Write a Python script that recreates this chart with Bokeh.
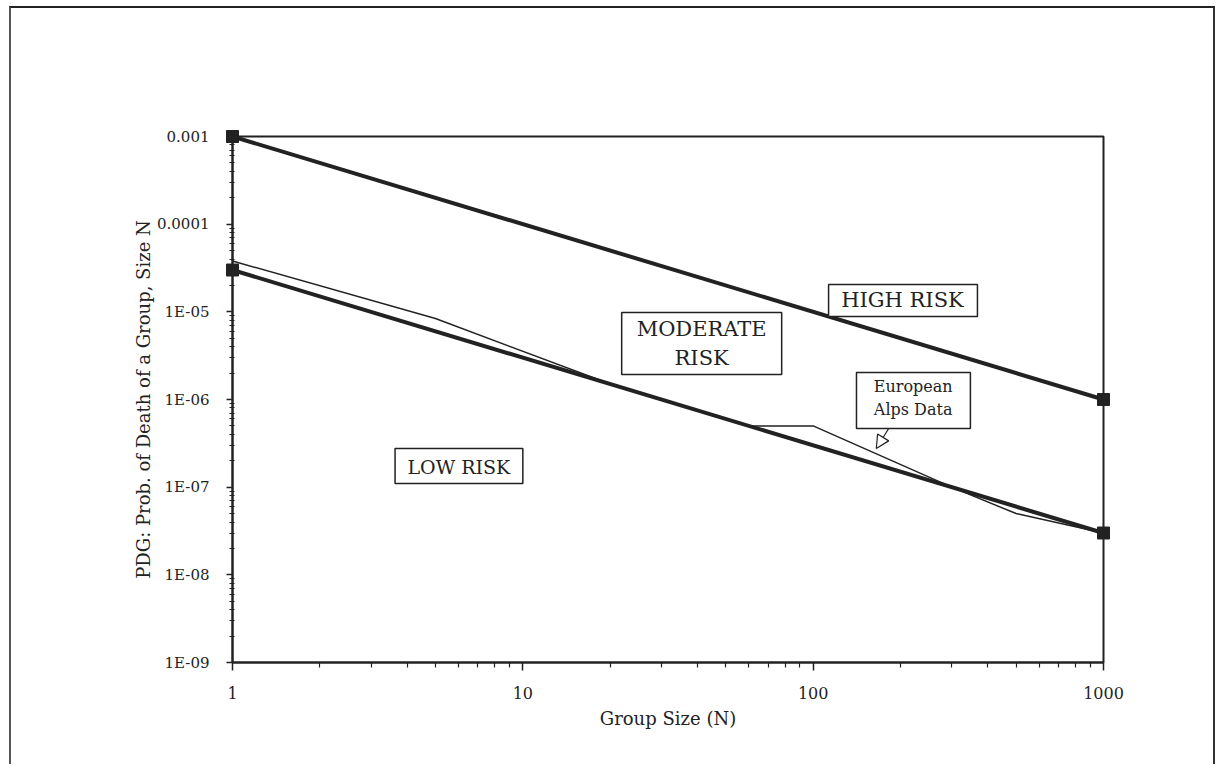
from bokeh.plotting import figure
from bokeh.models import (FixedTicker, CustomJSTickFormatter, BoxAnnotation, Label,
                          Arrow, NormalHead, Range1d)
from bokeh.embed import file_html
from bokeh.resources import INLINE

# ---- data ----
HIGH_N = [1, 1000]
HIGH_P = [1e-3, 1e-6]
LOW_N = [1, 1000]
LOW_P = [3e-5, 3e-8]
ALPS_N = [1, 5, 20, 60, 100, 300, 500, 1000]
ALPS_P = [3.8e-5, 8.4e-6, 1.5e-6, 5e-7, 5e-7, 1e-7, 5e-8, 3e-8]

X_TICKS = [1, 10, 100, 1000]
X_TICK_LABELS = ["1", "10", "100", "1000"]
Y_TICKS = [1e-9, 1e-8, 1e-7, 1e-6, 1e-5, 1e-4, 1e-3]
Y_TICK_LABELS = ["1E-09", "1E-08", "1E-07", "1E-06", "1E-05", "0.0001", "0.001"]

FONT = "DejaVu Serif"
INK = "#222222"

p = figure(width=1206, height=758,
           x_axis_type="log", y_axis_type="log",
           x_range=Range1d(1, 1000), y_range=Range1d(1e-9, 1e-3),
           output_backend="svg", toolbar_location=None,
           min_border_left=221, min_border_right=114,
           min_border_top=128, min_border_bottom=104,
           styles={"margin-left": "9px", "margin-top": "6px",
                   "border-left": "2px solid #555",
                   "border-top": "2px solid #222",
                   "border-right": "2px solid #333"})

p.xgrid.visible = False
p.ygrid.visible = False
p.outline_line_color = INK
p.outline_line_width = 2
p.outline_line_alpha = 1.0
p.background_fill_color = "white"
p.border_fill_color = "white"

x_minor = [k * 10 ** e for e in range(0, 3) for k in range(2, 10)]
y_minor = [k * 10.0 ** e for e in range(-9, -3) for k in range(2, 10)]

fmt_code = """
const lt = Math.log10(tick);
for (let i = 0; i < tv.length; i++) {
  if (Math.abs(Math.log10(tv[i]) - lt) < 1e-6) return tl[i];
}
return "";
"""

p.xaxis.ticker = FixedTicker(ticks=X_TICKS, minor_ticks=x_minor)
p.xaxis.formatter = CustomJSTickFormatter(args=dict(tv=X_TICKS, tl=X_TICK_LABELS), code=fmt_code)
p.yaxis.ticker = FixedTicker(ticks=Y_TICKS, minor_ticks=y_minor)
p.yaxis.formatter = CustomJSTickFormatter(args=dict(tv=Y_TICKS, tl=Y_TICK_LABELS), code=fmt_code)

for ax in (p.xaxis, p.yaxis):
    ax.axis_line_color = INK
    ax.axis_line_width = 2
    ax.major_tick_line_color = INK
    ax.minor_tick_line_color = INK
    ax.major_tick_line_width = 1.5
    ax.minor_tick_line_width = 1.2
    ax.major_label_text_font = FONT
    ax.major_label_text_color = INK
    ax.axis_label_text_font = FONT
    ax.axis_label_text_font_size = "18px"
    ax.axis_label_text_font_style = "normal"
    ax.axis_label_text_color = INK

p.xaxis.axis_label = "Group Size (N)"
p.xaxis.major_label_text_font_size = "16px"
p.xaxis.major_tick_out = 8
p.xaxis.major_tick_in = 0
p.xaxis.minor_tick_out = 5
p.xaxis.minor_tick_in = 0
p.xaxis.major_label_standoff = 16
p.xaxis.axis_label_standoff = 6

p.yaxis.axis_label = "PDG: Prob. of Death of a Group, Size N"
p.yaxis.major_label_text_font_size = "15px"
p.yaxis.major_tick_out = 6
p.yaxis.major_tick_in = 0
p.yaxis.minor_tick_out = 3
p.yaxis.minor_tick_in = 2
p.yaxis.major_label_standoff = 17
p.yaxis.axis_label_standoff = 0

# ---- lines ----
p.line(ALPS_N, ALPS_P, line_color=INK, line_width=1.5)
p.line(HIGH_N, HIGH_P, line_color=INK, line_width=4)
p.line(LOW_N, LOW_P, line_color=INK, line_width=4)
# end markers at overlay level so they are not clipped by the frame
p.scatter(HIGH_N, HIGH_P, marker="square", size=12, color=INK, level="overlay")
p.scatter(LOW_N, LOW_P, marker="square", size=12, color=INK, level="overlay")

# ---- annotation boxes (positions in data units) ----
def add_box(l, r, t, b, tx, ty, text, size):
    p.add_layout(BoxAnnotation(left=l, right=r, top=t, bottom=b,
                               fill_color="white", fill_alpha=1.0,
                               line_color=INK, line_width=1.5, line_alpha=1.0))
    p.add_layout(Label(x=tx, y=ty, text=text, text_align="center",
                       text_baseline="middle", text_font=FONT,
                       text_font_size=size, text_color=INK,
                       text_line_height=1.2))

add_box(113, 368, 2.05e-5, 8.85e-6, 203, 1.35e-5, "HIGH RISK", "21px")
add_box(21.9, 77.9, 9.83e-6, 1.93e-6, 41.3, 4.35e-6, "MODERATE\nRISK", "21px")
add_box(3.63, 10.0, 2.76e-7, 1.10e-7, 6.02, 1.72e-7, "LOW RISK", "19px")
add_box(141, 348, 2.03e-6, 4.67e-7, 221, 1.03e-6, "European\nAlps Data", "16px")

p.add_layout(Arrow(end=NormalHead(size=13, fill_color="white", line_color=INK, line_width=1.2),
                   x_start=182, y_start=4.67e-7, x_end=165, y_end=2.76e-7,
                   line_color=INK, line_width=1.2))

open("out.html", "w").write(file_html(p, INLINE))
